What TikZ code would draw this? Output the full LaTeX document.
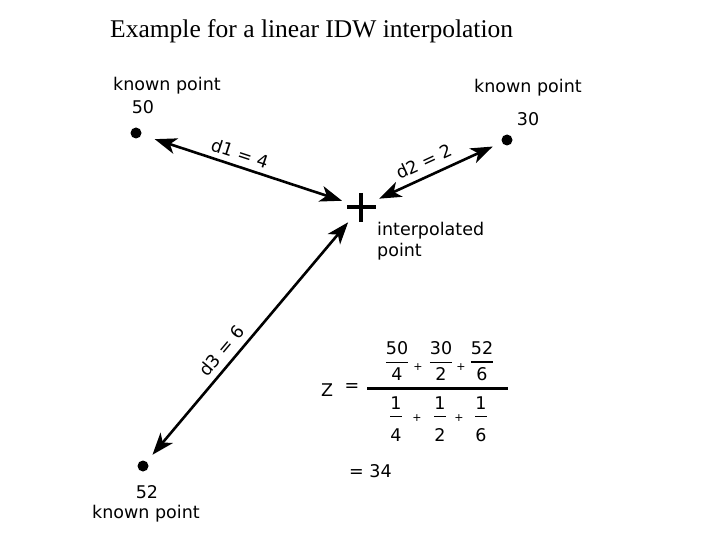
\documentclass[tikz,border=0pt]{standalone}
\usepackage{fontspec}
\setmainfont{DejaVu Sans}
\newfontfamily\titlefont{Liberation Serif}
\usepackage{amsmath}
\usetikzlibrary{arrows.meta}

\newcommand{\numfr}[2]{$\genfrac{}{}{1.4pt}{0}{\text{#1}}{\text{#2}}$}
\newcommand{\denfr}[2]{$\genfrac{}{}{1.4pt}{0}{\text{#1}}{\rule{0pt}{20pt}\text{#2}}$}

\tikzset{
  dot/.style={circle,fill=black,inner sep=0pt,minimum size=11pt},
  lbl/.style={inner sep=0pt,font=\fontsize{17.5}{19}\selectfont},
  plus/.style={inner sep=0pt,font=\fontsize{11}{12}\selectfont},
  dist/.style={line width=2.6pt,{Stealth[length=22pt,width=16pt,inset=6pt]}-{Stealth[length=22pt,width=16pt,inset=6pt]}},
}

\begin{document}
\begin{tikzpicture}[x=1pt,y=-1pt]
\path[use as bounding box,fill=white] (0,0) rectangle (720,540);
\node[inner sep=0pt,anchor=base west,font=\titlefont\fontsize{25.5}{28}\selectfont] (title) at (110,38) {Example for a linear IDW interpolation};
% known points
\node[dot] (p50) at (136,133) {};
\node[dot] (p30) at (507,140) {};
\node[dot] (p52) at (143,466) {};
\node[lbl] (k50) at (167,86) {known point};
\node[lbl] (v50) at (143,107) {50};
\node[lbl] (k30) at (528,88) {known point};
\node[lbl] (v30) at (528,119) {30};
\node[lbl] (v52) at (147,492) {52};
\node[lbl] (k52) at (146,514) {known point};
% interpolated point
\coordinate (ip) at (361,207);
\draw[line width=3.8pt] (347,207) -- (376,207) (361,193) -- (361,222);
\node[lbl,anchor=north west,align=left] (ipl) at (377,222) {interpolated\\[2pt]point};
% distances
\draw[dist,shorten <=14pt,shorten >=20pt] (p50) -- (ip) node[lbl,pos=0.43,sloped,above=5pt] (d1) {d1 = 4};
\draw[dist,shorten <=10pt,shorten >=20pt] (p30) -- (ip) node[lbl,pos=0.51,sloped,above=7pt] (d2) {d2 = 2};
\draw[dist,shorten <=9pt,shorten >=20pt] (p52) -- (ip) node[lbl,pos=0.40,sloped,above=6pt] (d3) {d3 = 6};
% formula
\node[lbl] (z) at (327,390) {Z};
\node[lbl] (eq) at (352,388) {=};
\coordinate (barl) at (367,388);
\coordinate (barr) at (508,388);
\draw[line width=3pt] (barl) -- (barr);
\node[lbl] (fn1) at (397,361) {\numfr{50}{4}};
\node[lbl] (fn2) at (441,361) {\numfr{30}{2}};
\node[lbl] (fn3) at (482,361) {\numfr{52}{6}};
\node[plus] (pn1) at (418,367) {+};
\node[plus] (pn2) at (461,367) {+};
\node[lbl] (fd1) at (396,419) {\denfr{1}{4}};
\node[lbl] (fd2) at (440,419) {\denfr{1}{2}};
\node[lbl] (fd3) at (481,419) {\denfr{1}{6}};
\node[plus] (pd1) at (417,418) {+};
\node[plus] (pd2) at (459,418) {+};
\node[lbl,anchor=west] (res) at (349,471) {= 34};
\end{tikzpicture}
\end{document}
